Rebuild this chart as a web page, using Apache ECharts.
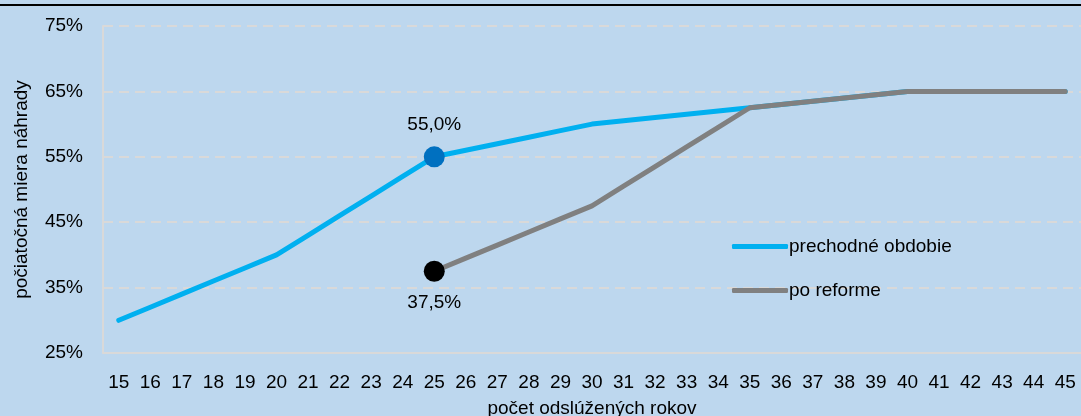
<!DOCTYPE html>
<html><head><meta charset="utf-8">
<script src="https://cdn.jsdelivr.net/npm/echarts@6/dist/echarts.min.js"></script>
<style>html,body{margin:0;padding:0;background:#bdd7ee}#c{width:1081px;height:416px}</style>
</head><body><div id="c"></div>
<script>
const years = ['15','16','17','18','19','20','21','22','23','24','25','26','27','28','29','30','31','32','33','34','35','36','37','38','39','40','41','42','43','44','45'];
const prechodne = [30,32,34,36,38,40,43,46,49,52,55,56,57,58,59,60,60.5,61,61.5,62,62.5,63,63.5,64,64.5,65,65,65,65,65,65];
const poReforme = [null,null,null,null,null,null,null,null,null,null,37.5,39.5,41.5,43.5,45.5,47.5,50.5,53.5,56.5,59.5,62.5,63,63.5,64,64.5,65,65,65,65,65,65];
const yTicks = [25,35,45,55,65,75];
const FONT = '"Liberation Sans Narrow","Arial Narrow","Liberation Sans",Arial,sans-serif';
const chart = echarts.init(document.getElementById('c'));
chart.setOption({
  backgroundColor: '#bdd7ee',
  animation: false,
  grid: {left: 103, right: 0, top: 26, bottom: 63, outerBoundsMode: 'none', containLabel: false},
  graphic: [{type:'rect', shape:{x:0,y:4,width:1081,height:2}, style:{fill:'#000'}}],
  legend: {
    orient: 'vertical', left: 727, top: 232, itemGap: 25, itemWidth: 56, itemHeight: 5,
    icon: 'roundRect',
    textStyle: {fontFamily: FONT, fontSize: 19, color: '#000', padding: [0,0,0,-4]},
    data: [{name:'prechodné obdobie'},{name:'po reforme'}]
  },
  xAxis: {
    type: 'category', data: years, boundaryGap: true,
    name: 'počet odslúžených rokov', nameLocation: 'middle', nameGap: 46,
    nameTextStyle: {fontFamily: FONT, fontSize: 19, color: '#000'},
    axisLine: {lineStyle: {color: '#d9d9d9', width: 2}},
    axisTick: {show: false},
    axisLabel: {fontFamily: FONT, fontSize: 19, color: '#000', margin: 20, interval: 0}
  },
  yAxis: {
    type: 'value', min: 25, max: 75, interval: 10,
    name: 'počiatočná miera náhrady', nameLocation: 'middle', nameGap: 72, nameRotate: 90,
    nameTextStyle: {fontFamily: FONT, fontSize: 19, color: '#000'},
    axisLine: {show: true, lineStyle: {color: '#d9d9d9', width: 2}},
    axisTick: {show: false},
    axisLabel: {fontFamily: FONT, fontSize: 19, color: '#000', margin: 20, formatter: v => v + '%'},
    splitLine: {lineStyle: {color: '#d9d9d9', type: [10, 6], width: 2}}
  },
  series: [
    {
      name: 'prechodné obdobie', type: 'line', data: prechodne,
      lineStyle: {color: '#00b0f0', width: 5, cap: 'round'}, itemStyle: {color: '#00b0f0'},
      symbol: 'none', z: 2,
      markPoint: {
        symbol: 'circle', symbolSize: 21,
        itemStyle: {color: '#0070c0'},
        label: {show: true, position: 'top', distance: 12, formatter: '55,0%', fontFamily: FONT, fontSize: 19, color: '#000'},
        data: [{coord: ['25', 55], value: 55}]
      }
    },
    {
      name: 'po reforme', type: 'line', data: poReforme,
      lineStyle: {color: '#808080', width: 5, cap: 'round'}, itemStyle: {color: '#808080'},
      symbol: 'none', z: 3,
      markPoint: {
        symbol: 'circle', symbolSize: 21,
        itemStyle: {color: '#000'},
        label: {show: true, position: 'bottom', distance: 12, formatter: '37,5%', fontFamily: FONT, fontSize: 19, color: '#000'},
        data: [{coord: ['25', 37.5], value: 37.5}]
      }
    }
  ]
});
</script></body></html>
